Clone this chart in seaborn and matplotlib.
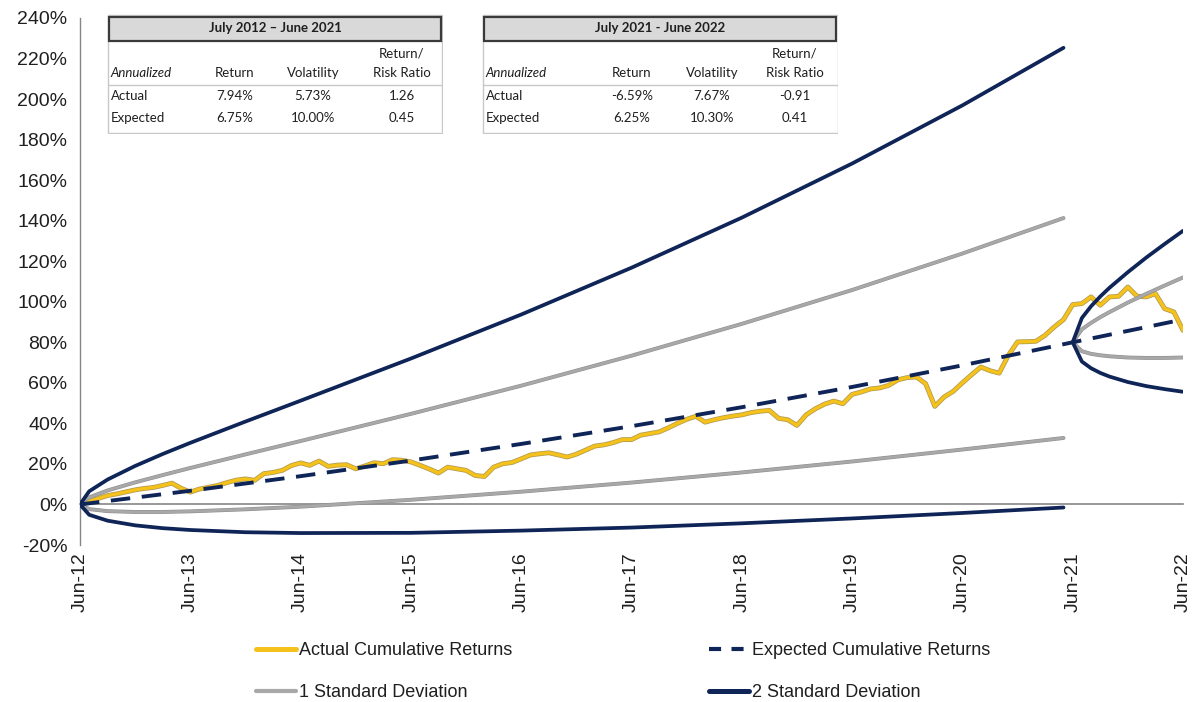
import numpy as np
import pandas as pd
import matplotlib
matplotlib.use('Agg')
import matplotlib.pyplot as plt
import matplotlib.patheffects as pe
from matplotlib.lines import Line2D
from matplotlib.patches import Rectangle
import seaborn as sns

# ---- data ----
# month index 0 = Jun-12 ... 120 = Jun-22
actual = [0, 1.5, 3.0, 4.4, 5.2, 6.2, 7.2, 7.9, 8.4, 9.4, 10.5, 8.0,
          6.1, 7.6, 8.5, 9.4, 10.8, 12.0, 12.6, 11.9, 15.2, 15.8, 16.8, 19.2,
          20.5, 19.3, 21.4, 18.8, 19.4, 19.6, 17.6, 19.0, 20.6, 20.1, 22.1, 21.8,
          21.0, 19.3, 17.5, 15.5, 18.4, 17.6, 16.8, 14.3, 13.8, 18.4, 20.1, 20.7,
          22.5, 24.4, 25.0, 25.5, 24.5, 23.4, 24.8, 26.8, 28.8, 29.4, 30.5, 32.0,
          32.0, 34.2, 35.0, 35.8, 37.8, 40.0, 42.0, 43.5, 40.6, 41.8, 42.8, 43.6,
          44.2, 45.3, 46.0, 46.4, 42.5, 41.8, 39.0, 44.2, 47.2, 49.5, 51.0, 49.7,
          54.3, 55.5, 57.0, 57.5, 58.8, 61.5, 62.6, 62.9, 59.6, 48.4, 53.0, 55.8,
          60.0, 64.0, 67.8, 66.0, 64.8, 73.6, 80.2, 80.3, 80.5, 83.5, 87.6, 91.2,
          98.6, 99.1, 102.4, 98.3, 102.4, 102.7, 107.3, 102.7, 102.4, 104.0, 96.6, 95.0,
          85.9]

exp_months = [0, 12, 24, 36, 48, 60, 72, 84, 96, 108, 120]
expected = [0, 6.75, 13.96, 21.65, 29.86, 38.62, 47.98, 57.97, 68.63, 80.0, 91.26]

# July 2012 - June 2021 bands
band1_months = [0, 1, 3, 6, 9, 12, 18, 24, 36, 48, 60, 72, 84, 96, 107]
up2_a = [0, 6.5, 12.3, 19.0, 24.9, 30.4, 40.9, 51.2, 72.0, 93.7, 116.8, 141.5, 168.2, 196.9, 225.3]
up1_a = [0, 3.5, 6.9, 10.9, 14.5, 18.0, 24.7, 31.3, 44.7, 58.6, 73.4, 89.1, 105.8, 123.8, 141.3]
lo1_a = [0, -2.3, -3.3, -3.7, -3.7, -3.4, -2.4, -1.1, 2.3, 6.3, 10.8, 15.8, 21.2, 27.1, 32.8]
lo2_a = [0, -5.1, -8.0, -10.3, -11.7, -12.6, -13.7, -14.1, -14.0, -12.9, -11.4, -9.3, -6.9, -4.2, -1.5]

# July 2021 - June 2022 bands
band2_months = [108, 109, 110, 111, 112, 114, 116, 118, 120]
up2_b = [80, 92.0, 97.8, 102.6, 106.9, 114.6, 121.8, 128.5, 135.0]
up1_b = [80, 86.4, 89.6, 92.4, 94.9, 99.6, 103.9, 108.0, 112.0]
lo1_b = [80, 75.6, 74.3, 73.6, 73.1, 72.5, 72.3, 72.3, 72.5]
lo2_b = [80, 70.5, 67.2, 64.9, 63.1, 60.4, 58.4, 56.9, 55.6]

tick_labels = ['Jun-12', 'Jun-13', 'Jun-14', 'Jun-15', 'Jun-16', 'Jun-17',
               'Jun-18', 'Jun-19', 'Jun-20', 'Jun-21', 'Jun-22']
y_ticks = list(range(-20, 241, 20))

table1_title = 'July 2012 \u2013 June 2021'
table1_actual = ['7.94%', '5.73%', '1.26']
table1_expected = ['6.75%', '10.00%', '0.45']
table2_title = 'July 2021 - June 2022'
table2_actual = ['-6.59%', '7.67%', '-0.91']
table2_expected = ['6.25%', '10.30%', '0.41']

YELLOW = '#f4c21a'
NAVY = '#0f2558'
GRAY = '#a8a8a8'
TXT = '#1f1f1f'

sns.set_style('white')
plt.rcParams['font.family'] = ['Liberation Sans', 'DejaVu Sans']

fig = plt.figure(figsize=(11.92, 7.02), dpi=100)
ax = fig.add_axes([80 / 1192, 157 / 702, 1103 / 1192, 527 / 702])

months = np.arange(len(actual))
sns.lineplot(x=months, y=actual, ax=ax, color=YELLOW, lw=2.4, zorder=3,
             path_effects=[pe.Stroke(linewidth=3.5, foreground='#b09a55'), pe.Normal()])

gray_fx = [pe.Stroke(linewidth=2.8, foreground='#8f8f8f'), pe.Normal()]
for xs, ys in [(band1_months, up1_a), (band1_months, lo1_a),
               (band2_months, up1_b), (band2_months, lo1_b)]:
    sns.lineplot(x=xs, y=ys, ax=ax, color=GRAY, lw=2.0, zorder=4, path_effects=gray_fx)
for xs, ys in [(band1_months, up2_a), (band1_months, lo2_a),
               (band2_months, up2_b), (band2_months, lo2_b)]:
    sns.lineplot(x=xs, y=ys, ax=ax, color=NAVY, lw=2.7, zorder=5)

sns.lineplot(x=exp_months, y=expected, ax=ax, color=NAVY, lw=2.8, zorder=6,
             linestyle=(0, (5, 3)))

# spine placement first: set_position resets the ticks
for s in ['top', 'right']:
    ax.spines[s].set_visible(False)
ax.spines['bottom'].set_position(('data', 0))
ax.spines['bottom'].set_color('#868686')
ax.spines['bottom'].set_linewidth(1.2)
ax.spines['left'].set_color('#868686')
ax.spines['left'].set_linewidth(1.0)

ax.set_xlim(0, 120)
ax.set_ylim(-20, 240)
ax.set_yticks(y_ticks)
ax.set_yticklabels([f'{v}%' for v in y_ticks], fontsize=14, color=TXT)
ax.set_xticks(exp_months)
ax.set_xticklabels(tick_labels, rotation=90, fontsize=14, color=TXT)
ax.set_xlabel('')
ax.set_ylabel('')
ax.tick_params(axis='y', direction='out', length=5, width=1, color='#868686', pad=4)
ax.tick_params(axis='x', direction='inout', length=9, width=1, color='#868686', pad=30)
ax.grid(False)

# ---- legend ----
handles = [
    Line2D([], [], color=YELLOW, lw=3.6, solid_capstyle='round'),
    Line2D([], [], color=GRAY, lw=3.0, solid_capstyle='round'),
    Line2D([], [], color=NAVY, lw=3.0, linestyle=(0, (2.9, 2.5))),
    Line2D([], [], color=NAVY, lw=3.6, solid_capstyle='round'),
]
labels = ['Actual Cumulative Returns', '1 Standard Deviation',
          'Expected Cumulative Returns', '2 Standard Deviation']
fig.legend(handles, labels, ncol=2, loc='center', bbox_to_anchor=(0.523, 0.043),
           frameon=False, prop={'family': ['Liberation Sans', 'DejaVu Sans'], 'size': 13},
           handlelength=2.2, handletextpad=0.17, columnspacing=10.9, labelspacing=1.4,
           labelcolor=TXT, borderpad=0)


# ---- summary tables ----
def draw_table(left, width, cols, title, row_a, row_e):
    tx = fig.add_axes([left / 1192, 1 - 134 / 702, width / 1192, 120 / 702])
    tx.set_xlim(0, width)
    tx.set_ylim(120, 0)
    tx.axis('off')
    tx.add_patch(Rectangle((0.5, 0.5), width - 1, 118.5, fill=False, ec='#c8c8c8', lw=1))
    tx.add_patch(Rectangle((1.5, 2.5), width - 3.5, 24, fc='#d9d9d9', ec='#3a3a3a', lw=1.6))
    tx.plot([0.5, width - 0.5], [70.5, 70.5], color='#c8c8c8', lw=1)
    f = ['Lato', 'DejaVu Sans']
    fs = 9.5
    tx.text(width / 2, 14.5, title, ha='center', va='center', fontsize=9.5,
            fontweight='bold', family=f, color=TXT)
    tx.text(3.5, 59, 'Annualized', ha='left', va='center', fontsize=fs, style='italic',
            family=f, color=TXT)
    tx.text(cols[0], 59, 'Return', ha='center', va='center', fontsize=fs, family=f, color=TXT)
    tx.text(cols[1], 59, 'Volatility', ha='center', va='center', fontsize=fs, family=f, color=TXT)
    tx.text(cols[2], 39, 'Return/', ha='center', va='center', fontsize=fs, family=f, color=TXT)
    tx.text(cols[2], 59, 'Risk Ratio', ha='center', va='center', fontsize=fs, family=f, color=TXT)
    for yy, name, vals in [(82, 'Actual', row_a), (104, 'Expected', row_e)]:
        tx.text(3.5, yy, name, ha='left', va='center', fontsize=fs, family=f, color=TXT)
        for cx, v in zip(cols, vals):
            tx.text(cx, yy, v, ha='center', va='center', fontsize=fs, family=f, color=TXT)


draw_table(107, 336, [128, 206, 295], table1_title, table1_actual, table1_expected)
draw_table(482, 356, [150, 230, 313], table2_title, table2_actual, table2_expected)

fig.savefig('out.png', dpi=100, facecolor='white')
